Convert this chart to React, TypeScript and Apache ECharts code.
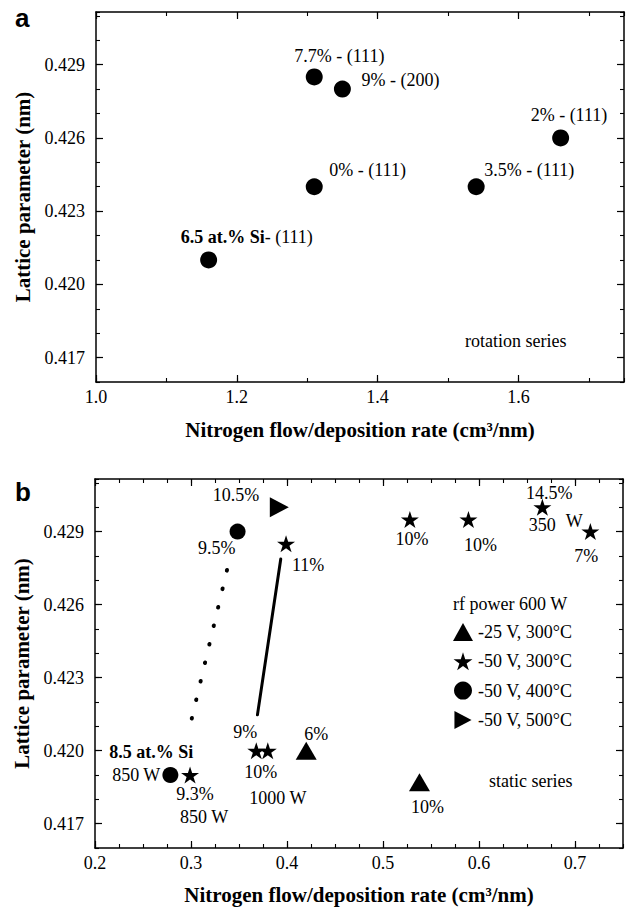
import React, { useEffect, useRef } from "react";
import * as echarts from "echarts";

const SERIF = '"Liberation Serif", "Times New Roman", Times, serif';
const SANS = '"Liberation Sans", Arial, Helvetica, sans-serif';

// ---------- shared y axis ----------
const yRange = [0.416, 0.43116];
const yTicks = [0.417, 0.42, 0.423, 0.426, 0.429];

// ---------- panel a : rotation series ----------
const aXRange = [1.0, 1.75];
const aXTicks = [1.0, 1.2, 1.4, 1.6];
const aX = [1.16, 1.31, 1.35, 1.31, 1.54, 1.66];
const aY = [0.421, 0.4285, 0.428, 0.424, 0.424, 0.426];
const aText = [
  "{bd|6.5 at.% Si}- (111)",
  "7.7% - (111)",
  "9% - (200)",
  "0% - (111)",
  "3.5% - (111)",
  "2% - (111)",
];
// label placement (pixels, relative to point)
const aOffset = [[-28, -23], [-20, -21], [19, -9], [15, -17], [8, -17], [-30, -23]];

// ---------- panel b : static series ----------
const bXRange = [0.2, 0.75];
const bXTicks = [0.2, 0.3, 0.4, 0.5, 0.6, 0.7];
const seriesNames = ["-25 V, 300°C", "-50 V, 300°C", "-50 V, 400°C", "-50 V, 500°C"];
const triX = [0.42, 0.538];
const triY = [0.42, 0.4187];
const starX = [0.399, 0.528, 0.589, 0.666, 0.716, 0.368, 0.38, 0.299];
const starY = [0.4285, 0.4295, 0.4295, 0.43, 0.429, 0.42, 0.42, 0.419];
const circX = [0.3485, 0.2785];
const circY = [0.429, 0.419];
const rightX = [0.392];
const rightY = [0.43];

const dottedX = [0.3375, 0.3002];
const dottedY = [0.42742, 0.42122];
const solidX = [0.3935, 0.3692];
const solidY = [0.42787, 0.42147];

const bNoteText = [
  "10.5%", "9.5%", "11%", "10%", "10%", "14.5%", "350", "W", "7%",
  "9%", "10%", "1000 W", "6%", "10%", "850 W", "{bd|8.5 at.% Si}", "9.3%", "850 W",
];
const bNoteX = [
  0.392, 0.3485, 0.399, 0.528, 0.589, 0.666, 0.666, 0.666, 0.716,
  0.368, 0.38, 0.38, 0.42, 0.538, 0.2785, 0.2785, 0.299, 0.299,
];
const bNoteY = [
  0.43, 0.429, 0.4285, 0.4295, 0.4295, 0.43, 0.43, 0.43, 0.429,
  0.42, 0.42, 0.42, 0.42, 0.4187, 0.419, 0.419, 0.419, 0.419,
];
// placement styles
const bNoteOffset = [
  [-20, -12], [-2, 16], [6, 21], [2, 20], [12, 26], [7, -14], [0, 18], [32, 14], [-4, 24],
  [-11, -19], [-7, 21], [10, 47], [10, -17], [8, 25], [-10, 0], [-61, -23], [5, 19], [14, 42],
];
const bNoteAlign = [
  "right", "right", "left", "center", "center", "center", "center", "center", "center",
  "center", "center", "center", "center", "center", "right", "left", "center", "center",
];

const STAR =
  "path://M0,-100 L22.45,-30.9 L95.1,-30.9 L36.3,11.8 L58.8,80.9 L0,38.2 L-58.8,80.9 L-36.3,11.8 L-95.1,-30.9 L-22.45,-30.9 Z";
const RIGHT_TRI = "path://M0,0 L19,10 L0,20 Z";

const labelBase = {
  show: true,
  position: "inside",
  verticalAlign: "middle",
  color: "#000",
  opacity: 1,
  textBorderWidth: 0,
  fontSize: 18,
  fontFamily: SERIF,
  rich: { bd: { fontWeight: "bold", fontSize: 18, fontFamily: SERIF, color: "#000" } },
};

function makeAxes(
  dim: "x" | "y",
  gridIndex: number,
  range: number[],
  majors: number[],
  minorInterval: number,
  digits: number,
  name: string,
  nameGap: number,
  labelMargin: number
) {
  const mainPos = dim === "x" ? "bottom" : "left";
  const otherPos = dim === "x" ? "top" : "right";
  const base = {
    type: "value",
    gridIndex,
    min: range[0],
    max: range[1],
    splitLine: { show: false },
  };
  const major = (pos: string, labels: boolean) => ({
    ...base,
    position: pos,
    axisLine: { show: true, onZero: false, lineStyle: { color: "#000", width: 1.5 } },
    axisTick: {
      show: true,
      inside: true,
      length: 7,
      customValues: majors,
      lineStyle: { color: "#000", width: 1.2 },
    },
    axisLabel: labels
      ? {
          show: true,
          customValues: majors,
          formatter: (v: number) => v.toFixed(digits),
          margin: labelMargin,
          color: "#000",
          fontSize: 18,
          fontFamily: SERIF,
        }
      : { show: false },
    ...(labels
      ? {
          name,
          nameLocation: "middle",
          nameGap,
          nameTextStyle: { color: "#000", fontSize: 21, fontWeight: "bold", fontFamily: SERIF },
        }
      : {}),
  });
  const minor = (pos: string) => ({
    ...base,
    position: pos,
    interval: minorInterval,
    axisLine: { show: false, onZero: false },
    axisTick: { show: true, inside: true, length: 4, lineStyle: { color: "#000", width: 1.1 } },
    axisLabel: { show: false },
  });
  return [major(mainPos, true), minor(mainPos), major(otherPos, false), minor(otherPos)];
}

export default function App() {
  const ref = useRef<HTMLDivElement>(null);

  useEffect(() => {
    if (!ref.current) return;
    const chart = echarts.init(ref.current, undefined, { renderer: "svg" });

    const xTitle = "Nitrogen flow/deposition rate (cm³/nm)";
    const yTitle = "Lattice parameter (nm)";

    const xAxes = [
      ...makeAxes("x", 0, aXRange, aXTicks, 0.1, 1, xTitle, 37, 6),
      ...makeAxes("x", 1, bXRange, bXTicks, 0.025, 1, xTitle, 36, 6),
    ];
    const yAxes = [
      ...makeAxes("y", 0, yRange, yTicks, 0.001, 3, yTitle, 61, 11),
      ...makeAxes("y", 1, yRange, yTicks, 0.001, 3, yTitle, 61, 11),
    ];

    const pts = (xs: number[], ys: number[]) => xs.map((x, i) => [x, ys[i]]);
    const solid = { color: "#000", opacity: 1 };

    const option: any = {
      animation: false,
      backgroundColor: "#fff",
      grid: [
        { left: 96, top: 12, width: 528, height: 370 },
        { left: 95, top: 479, width: 528, height: 369 },
      ],
      xAxis: xAxes,
      yAxis: yAxes,
      legend: {
        show: true,
        data: [
          { name: seriesNames[0] },
          { name: seriesNames[1] },
          { name: seriesNames[2] },
          { name: seriesNames[3], icon: RIGHT_TRI },
        ],
        orient: "vertical",
        left: 453,
        top: 623,
        padding: 0,
        itemWidth: 20,
        itemHeight: 18,
        itemGap: 11.3,
        selectedMode: false,
        itemStyle: { opacity: 1 },
        textStyle: { color: "#000", fontSize: 18, fontFamily: SERIF },
      },
      graphic: [
        {
          type: "text",
          x: 15,
          y: 18,
          style: { text: "a", fontSize: 26, fontWeight: "bold", fontFamily: SANS, fill: "#000", verticalAlign: "middle" },
        },
        {
          type: "text",
          x: 15,
          y: 492,
          style: { text: "b", fontSize: 26, fontWeight: "bold", fontFamily: SANS, fill: "#000", verticalAlign: "middle" },
        },
        {
          type: "text",
          x: 465,
          y: 341,
          style: { text: "rotation series", fontSize: 18, fontFamily: SERIF, fill: "#000", verticalAlign: "middle" },
        },
        {
          type: "text",
          x: 489,
          y: 781,
          style: { text: "static series", fontSize: 18, fontFamily: SERIF, fill: "#000", verticalAlign: "middle" },
        },
        {
          type: "text",
          x: 453,
          y: 604,
          style: { text: "rf power 600 W", fontSize: 18, fontFamily: SERIF, fill: "#000", verticalAlign: "middle" },
        },
      ],
      series: [
        // panel a
        {
          type: "scatter",
          xAxisIndex: 0,
          yAxisIndex: 0,
          symbol: "circle",
          symbolSize: 17,
          itemStyle: solid,
          data: pts(aX, aY),
          silent: true,
        },
        {
          type: "scatter",
          xAxisIndex: 0,
          yAxisIndex: 0,
          symbolSize: 1,
          itemStyle: { color: "rgba(0,0,0,0)", opacity: 1 },
          silent: true,
          z: 5,
          data: aX.map((x, i) => ({
            value: [x, aY[i]],
            label: { ...labelBase, align: "left", offset: aOffset[i], formatter: aText[i] },
          })),
        },
        // panel b guide lines
        {
          type: "line",
          xAxisIndex: 4,
          yAxisIndex: 4,
          symbol: "none",
          silent: true,
          lineStyle: { color: "#000", width: 4, type: [0.6, 18.4], cap: "round", opacity: 1 },
          data: pts(dottedX, dottedY),
        },
        {
          type: "line",
          xAxisIndex: 4,
          yAxisIndex: 4,
          symbol: "none",
          silent: true,
          lineStyle: { color: "#000", width: 3, cap: "round", opacity: 1 },
          data: pts(solidX, solidY),
        },
        // panel b markers
        {
          name: seriesNames[0],
          type: "scatter",
          xAxisIndex: 4,
          yAxisIndex: 4,
          symbol: "triangle",
          symbolSize: [21, 18],
          itemStyle: solid,
          data: pts(triX, triY),
          silent: true,
        },
        {
          name: seriesNames[1],
          type: "scatter",
          xAxisIndex: 4,
          yAxisIndex: 4,
          symbol: STAR,
          symbolSize: [18, 17],
          itemStyle: solid,
          data: pts(starX, starY),
          silent: true,
        },
        {
          name: seriesNames[2],
          type: "scatter",
          xAxisIndex: 4,
          yAxisIndex: 4,
          symbol: "circle",
          symbolSize: 16,
          itemStyle: solid,
          data: pts(circX, circY),
          silent: true,
        },
        {
          name: seriesNames[3],
          type: "scatter",
          xAxisIndex: 4,
          yAxisIndex: 4,
          symbol: "triangle",
          symbolRotate: -90,
          symbolSize: [20, 19],
          itemStyle: solid,
          data: pts(rightX, rightY),
          silent: true,
        },
        {
          type: "scatter",
          xAxisIndex: 4,
          yAxisIndex: 4,
          symbolSize: 1,
          itemStyle: { color: "rgba(0,0,0,0)", opacity: 1 },
          silent: true,
          z: 5,
          data: bNoteX.map((x, i) => ({
            value: [x, bNoteY[i]],
            label: { ...labelBase, align: bNoteAlign[i], offset: bNoteOffset[i], formatter: bNoteText[i] },
          })),
        },
      ],
    };

    chart.setOption(option);
    return () => chart.dispose();
  }, []);

  return (
    <div
      ref={ref}
      style={{ position: "absolute", left: 0, top: 0, width: 629, height: 907, background: "#fff" }}
    />
  );
}
